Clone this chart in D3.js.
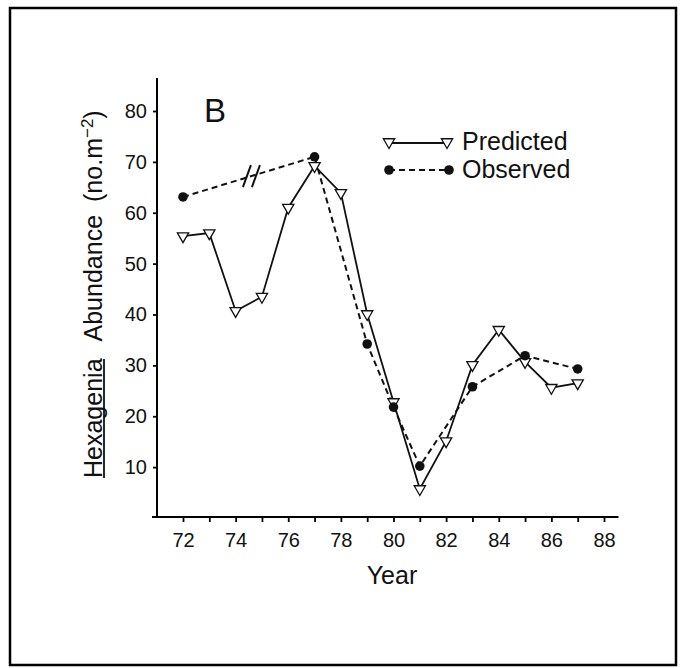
<!DOCTYPE html>
<html>
<head>
<meta charset="utf-8">
<script src="https://cdn.jsdelivr.net/npm/d3@7"></script>
<style>
  body { margin: 0; background: #fff; }
  svg { display: block; font-family: "Liberation Sans", Arial, sans-serif; }
</style>
</head>
<body>
<svg id="chart" width="680" height="668"></svg>
<script>
// data
var predYears = [72, 73, 74, 75, 76, 77, 78, 79, 80, 81, 82, 83, 84, 85, 86, 87];
var predValues = [55.4, 56.0, 40.7, 43.5, 61.0, 69.2, 63.9, 40.1, 22.8, 5.7, 15.1, 30.1, 37.0, 30.7, 25.6, 26.5];
var obsYears = [72, 77, 79, 80, 81, 83, 85, 87];
var obsValues = [63.1, 71.0, 34.2, 21.8, 10.2, 25.8, 31.9, 29.3];
var yTicks = [10, 20, 30, 40, 50, 60, 70, 80];
var xTicks = [72, 73, 74, 75, 76, 77, 78, 79, 80, 81, 82, 83, 84, 85, 86, 87, 88];
var xLabels = [72, 74, 76, 78, 80, 82, 84, 86, 88];
var breakYear = 74.6;

var svg = d3.select('#chart');

// outer frame
svg.append('rect')
  .attr('x', 10).attr('y', 8)
  .attr('width', 666).attr('height', 657)
  .attr('fill', 'none').attr('stroke', '#000').attr('stroke-width', 2.5);

var xscale = d3.scaleLinear().domain([72, 88]).range([183, 604]);
var yscale = d3.scaleLinear().domain([0, 80]).range([518, 111]);

// axis lines
svg.append('line')
  .attr('x1', 157).attr('x2', 157)
  .attr('y1', yscale(0)).attr('y2', yscale(86.5))
  .attr('stroke', '#000').attr('stroke-width', 2);
svg.append('line')
  .attr('x1', 152).attr('x2', xscale(88.55))
  .attr('y1', 517).attr('y2', 517)
  .attr('stroke', '#000').attr('stroke-width', 2);

var yaxis = svg.append('g')
  .attr('transform', 'translate(157,0)')
  .call(d3.axisLeft(yscale).tickValues(yTicks).tickSize(4).tickPadding(6));
yaxis.select('.domain').remove();

var xaxis = svg.append('g')
  .attr('transform', 'translate(0,517)')
  .call(d3.axisBottom(xscale).tickValues(xTicks).tickSize(5).tickPadding(11)
    .tickFormat(d => xLabels.indexOf(d) >= 0 ? d : ''));
xaxis.select('.domain').remove();

svg.selectAll('.tick line').attr('stroke', '#000').attr('stroke-width', 1.8);
svg.selectAll('.tick text').attr('fill', '#111').style('font-size', '20px')
  .style('font-family', '"Liberation Sans", Arial, sans-serif');

// axis titles
svg.append('text')
  .attr('x', 392).attr('y', 584)
  .attr('text-anchor', 'middle')
  .style('font-size', '25px')
  .attr('fill', '#111')
  .text('Year');

var ytitle = svg.append('text')
  .attr('transform', 'translate(102,478) rotate(-90)')
  .style('font-size', '25px')
  .attr('fill', '#111');
ytitle.append('tspan').attr('x', 0).text('Hexagenia');
ytitle.append('tspan').attr('dx', 17).text('Abundance');
ytitle.append('tspan').attr('dx', 13).text('(no.m');
ytitle.append('tspan').attr('dy', -9).style('font-size', '17px').text('\u22122');
ytitle.append('tspan').attr('dy', 9).text(')');
// underline under Hexagenia
svg.append('line')
  .attr('x1', 104).attr('x2', 104)
  .attr('y1', 478).attr('y2', 359)
  .attr('stroke', '#111').attr('stroke-width', 1.8);

// panel letter
svg.append('text')
  .attr('x', 204).attr('y', 122)
  .style('font-size', '33px')
  .attr('fill', '#111')
  .text('B');

// lines
var predData = predYears.map((y, i) => ({year: y, val: predValues[i]}));
var obsData = obsYears.map((y, i) => ({year: y, val: obsValues[i]}));

var line = d3.line().x(d => xscale(d.year)).y(d => yscale(d.val));

svg.append('path')
  .datum(obsData)
  .attr('d', line)
  .attr('fill', 'none')
  .attr('stroke', '#111')
  .attr('stroke-width', 2)
  .attr('stroke-dasharray', '6,4');

svg.append('path')
  .datum(predData)
  .attr('d', line)
  .attr('fill', 'none')
  .attr('stroke', '#111')
  .attr('stroke-width', 1.8);

// break marks on the observed line between 72 and 77
var t = (breakYear - obsYears[0]) / (obsYears[1] - obsYears[0]);
var bv = obsValues[0] + t * (obsValues[1] - obsValues[0]);
var bx = xscale(breakYear), by = yscale(bv);
[-4.5, 4.5].forEach(function (off) {
  svg.append('line')
    .attr('x1', bx + off - 4).attr('y1', by + 11)
    .attr('x2', bx + off + 4).attr('y2', by - 11)
    .attr('stroke', '#111').attr('stroke-width', 2);
});

// markers
var tri = d3.symbol().type(d3.symbolTriangle).size(55);
svg.append('g').selectAll('path')
  .data(predData)
  .enter()
  .append('path')
  .attr('d', tri)
  .attr('transform', d => `translate(${xscale(d.year)},${yscale(d.val)}) rotate(180)`)
  .attr('fill', '#fff')
  .attr('stroke', '#111')
  .attr('stroke-width', 1.3);

svg.append('g').selectAll('circle')
  .data(obsData)
  .enter()
  .append('circle')
  .attr('cx', d => xscale(d.year))
  .attr('cy', d => yscale(d.val))
  .attr('r', 4.8)
  .attr('fill', '#111');

// legend
var lg = svg.append('g');
lg.append('line').attr('x1', 389).attr('x2', 447).attr('y1', 143).attr('y2', 143)
  .attr('stroke', '#111').attr('stroke-width', 1.8);
[389, 447].forEach(function (x) {
  lg.append('path').attr('d', tri)
    .attr('transform', `translate(${x},142) rotate(180)`)
    .attr('fill', '#fff').attr('stroke', '#111').attr('stroke-width', 1.3);
});
lg.append('line').attr('x1', 389).attr('x2', 449).attr('y1', 170).attr('y2', 170)
  .attr('stroke', '#111').attr('stroke-width', 2).attr('stroke-dasharray', '6,4');
[389, 449].forEach(function (x) {
  lg.append('circle').attr('cx', x).attr('cy', 170).attr('r', 4.8).attr('fill', '#111');
});
lg.append('text').attr('x', 462).attr('y', 150).style('font-size', '25px')
  .attr('fill', '#111').text('Predicted');
lg.append('text').attr('x', 462).attr('y', 178).style('font-size', '25px')
  .attr('fill', '#111').text('Observed');
</script>
</body>
</html>
